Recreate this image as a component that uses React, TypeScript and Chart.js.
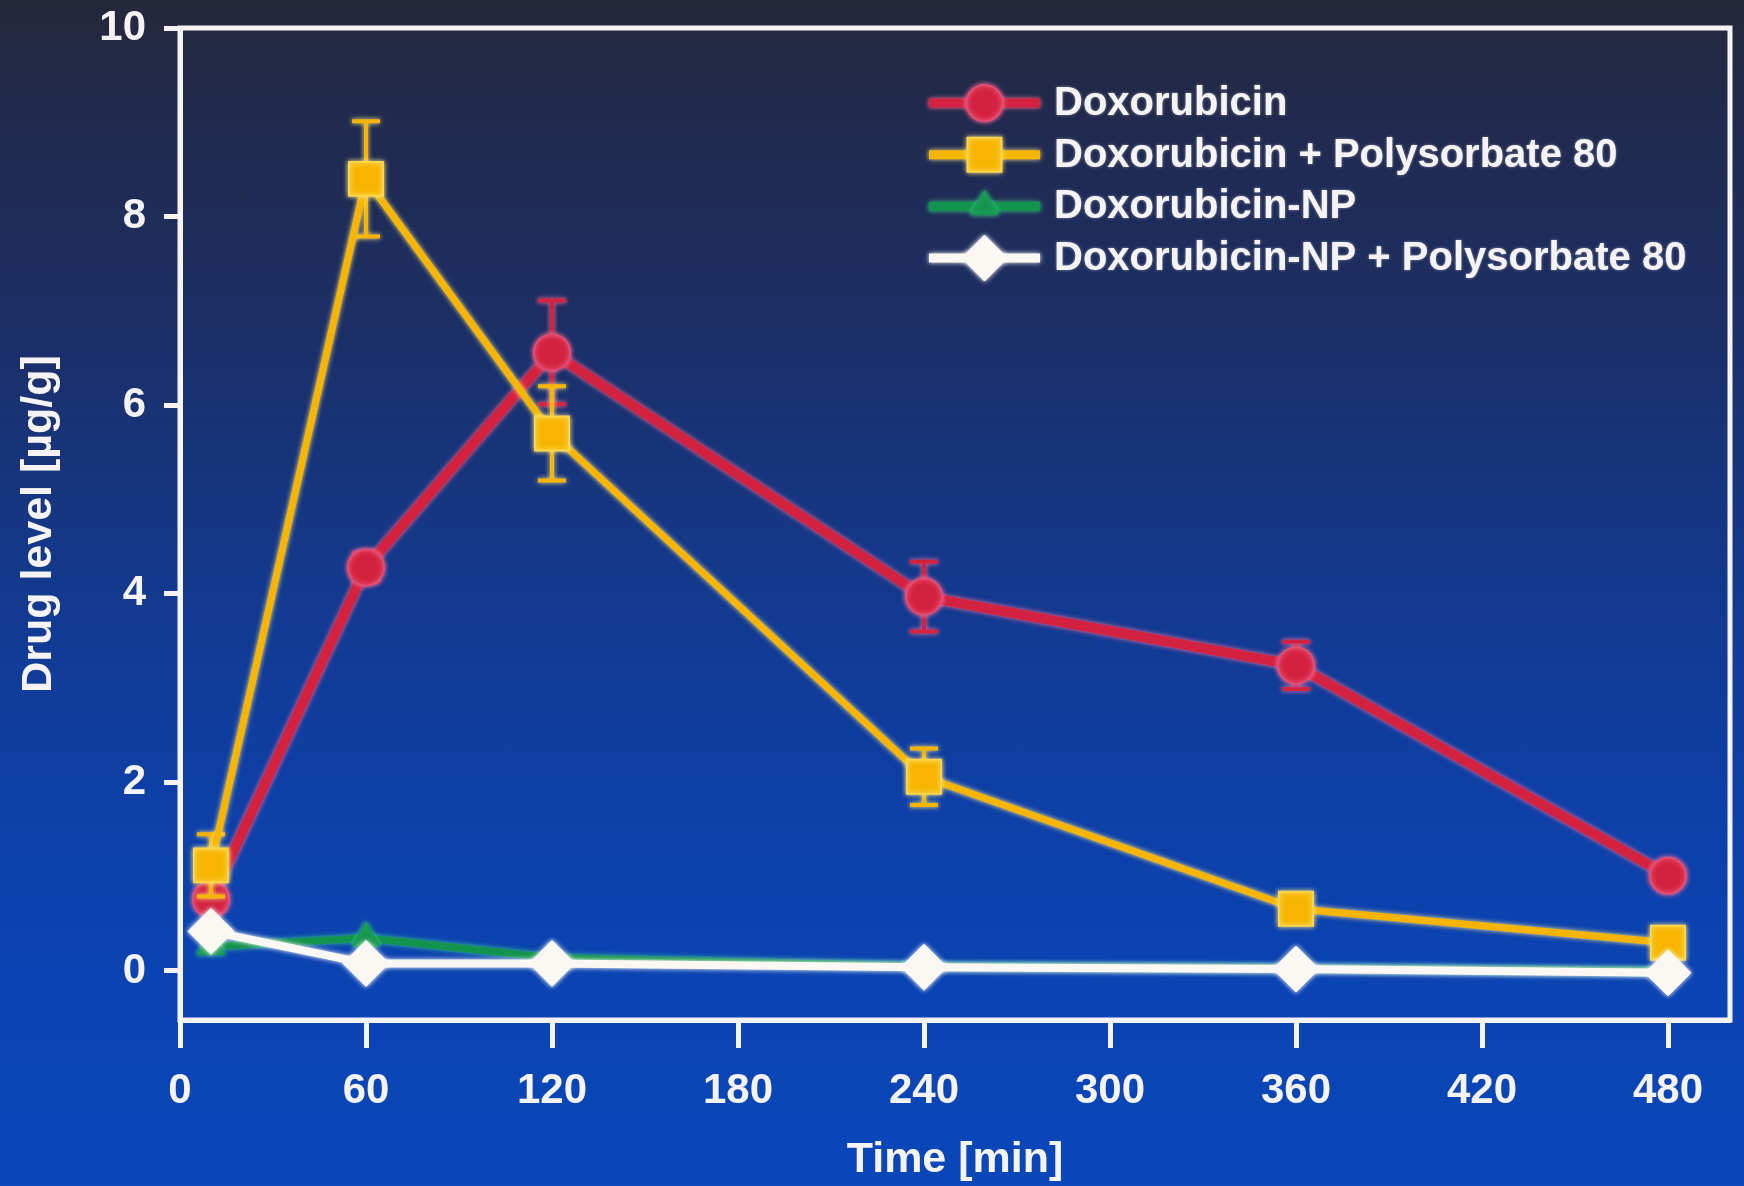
import React, { useEffect, useRef } from 'react';
import { Chart, registerables } from 'chart.js';
import { drawPoint } from 'chart.js/helpers';

Chart.register(...registerables);

// ---- Data ----
const timePoints = [10, 60, 120, 240, 360, 480];
const xTickValues = [0, 60, 120, 180, 240, 300, 360, 420, 480];
const yTickValues = [0, 2, 4, 6, 8, 10];

const seriesLabels = [
  'Doxorubicin',
  'Doxorubicin + Polysorbate 80',
  'Doxorubicin-NP',
  'Doxorubicin-NP + Polysorbate 80',
];

const doxorubicin = [0.76, 4.28, 6.56, 3.97, 3.24, 1.01];
const doxorubicinErr = [0.1, 0.15, 0.55, 0.37, 0.25, 0.08];

const doxPs80 = [1.12, 8.4, 5.7, 2.06, 0.66, 0.3];
const doxPs80Err = [0.33, 0.61, 0.5, 0.3, 0.1, 0.08];

const doxNp = [0.26, 0.35, 0.14, 0.05, 0.03, 0.0];
const doxNpErr = [0, 0, 0, 0, 0, 0];

const doxNpPs80 = [0.42, 0.08, 0.08, 0.04, 0.02, -0.02];
const doxNpPs80Err = [0, 0, 0, 0, 0, 0];

const FONT = "'Liberation Sans', Arial, Helvetica, sans-serif";
const WHITE = '#f6f3f4';

const toPoints = (vals: number[]) => timePoints.map((t, i) => ({ x: t, y: vals[i] }));

const zeroPadding = (s: any) => {
  s.paddingTop = 0;
  s.paddingBottom = 0;
  s.paddingLeft = 0;
  s.paddingRight = 0;
};

// error bars drawn through the chart's own scales
const errorBarPlugin = {
  id: 'errorBars',
  beforeDatasetDraw(chart: any, args: any) {
    const ds = chart.data.datasets[args.index];
    const ctx = chart.ctx;
    ctx.save();
    if (ds.glowColor) {
      ctx.shadowColor = ds.glowColor;
      ctx.shadowBlur = 5;
    }
    const errs: number[] | undefined = ds.errors;
    if (!errs) return;
    const meta = chart.getDatasetMeta(args.index);
    const yScale = chart.scales[meta.yAxisID];
    ctx.save();
    ctx.strokeStyle = ds.borderColor;
    ctx.lineWidth = 4;
    meta.data.forEach((el: any, i: number) => {
      const e = errs[i];
      if (!e) return;
      const v = ds.data[i].y;
      const yt = yScale.getPixelForValue(v + e);
      const yb = yScale.getPixelForValue(v - e);
      const cap = 14;
      ctx.beginPath();
      ctx.moveTo(el.x, yt);
      ctx.lineTo(el.x, yb);
      ctx.moveTo(el.x - cap, yt);
      ctx.lineTo(el.x + cap, yt);
      ctx.moveTo(el.x - cap, yb);
      ctx.lineTo(el.x + cap, yb);
      ctx.stroke();
    });
    ctx.restore();
  },
  afterDatasetDraw(chart: any) {
    chart.ctx.restore();
  },
};

// white frame round the plot area
const framePlugin = {
  id: 'frame',
  afterDraw(chart: any) {
    const { ctx, chartArea } = chart;
    ctx.save();
    ctx.strokeStyle = WHITE;
    ctx.lineWidth = 5;
    ctx.strokeRect(chartArea.left, chartArea.top, chartArea.right - chartArea.left, chartArea.bottom - chartArea.top);
    ctx.restore();
  },
};

// legend inside the plot, top right
const insetLegendPlugin = {
  id: 'insetLegend',
  afterDraw(chart: any) {
    const ctx = chart.ctx;
    const lineX1 = 929;
    const lineX2 = 1040;
    const textX = 1054;
    const row0 = 103;
    const rowGap = 51.7;
    ctx.save();
    chart.data.datasets.forEach((ds: any, i: number) => {
      const y = row0 + i * rowGap;
      ctx.save();
      if (ds.glowColor) {
        ctx.shadowColor = ds.glowColor;
        ctx.shadowBlur = 5;
      }
      ctx.strokeStyle = ds.borderColor;
      ctx.lineWidth = 9;
      ctx.beginPath();
      ctx.moveTo(lineX1, y);
      ctx.lineTo(lineX2, y);
      ctx.stroke();
      ctx.fillStyle = ds.pointBackgroundColor;
      ctx.strokeStyle = ds.pointBorderColor;
      ctx.lineWidth = ds.pointBorderWidth;
      drawPoint(ctx, { pointStyle: ds.pointStyle, radius: ds.pointRadius, rotation: 0, borderWidth: ds.pointBorderWidth }, (lineX1 + lineX2) / 2, y);
      ctx.restore();
      ctx.save();
      ctx.fillStyle = WHITE;
      ctx.shadowColor = 'rgba(255,255,255,0.45)';
      ctx.shadowBlur = 3;
      ctx.font = `bold 40px ${FONT}`;
      ctx.textBaseline = 'middle';
      ctx.textAlign = 'left';
      ctx.fillText(ds.label, textX, y + 1);
      ctx.restore();
    });
    ctx.restore();
  },
};

export default function App() {
  const canvasRef = useRef<HTMLCanvasElement | null>(null);

  useEffect(() => {
    const canvas = canvasRef.current;
    if (!canvas) return;
    const chart = new Chart(canvas, {
      type: 'line',
      data: {
        datasets: [
          {
            label: seriesLabels[0],
            data: toPoints(doxorubicin),
            errors: doxorubicinErr,
            borderColor: '#d3223f',
            glowColor: '#ff6f9a',
            borderWidth: 10,
            pointStyle: 'circle',
            pointRadius: 18,
            pointBackgroundColor: '#d3223f',
            pointBorderColor: '#e04d6e',
            pointBorderWidth: 2,
            order: 4,
          },
          {
            label: seriesLabels[1],
            data: toPoints(doxPs80),
            errors: doxPs80Err,
            borderColor: '#f7b500',
            glowColor: '#ffe98a',
            borderWidth: 7,
            pointStyle: 'rect',
            pointRadius: 24,
            pointBackgroundColor: '#f7b500',
            pointBorderColor: '#ffd54a',
            pointBorderWidth: 2,
            order: 3,
          },
          {
            label: seriesLabels[2],
            data: toPoints(doxNp),
            errors: doxNpErr,
            borderColor: '#13944c',
            glowColor: '#3fd08a',
            borderWidth: 7,
            pointStyle: 'triangle',
            pointRadius: 16,
            pointBackgroundColor: '#13944c',
            pointBorderColor: '#13944c',
            pointBorderWidth: 1,
            order: 2,
          },
          {
            label: seriesLabels[3],
            data: toPoints(doxNpPs80),
            errors: doxNpPs80Err,
            borderColor: '#fbf7f2',
            glowColor: '#ffffff',
            borderWidth: 8,
            pointStyle: 'rectRot',
            pointRadius: 23,
            pointBackgroundColor: '#fbf7f2',
            pointBorderColor: '#fbf7f2',
            pointBorderWidth: 1,
            order: 1,
          },
        ] as any,
      },
      options: {
        animation: false,
        responsive: false,
        maintainAspectRatio: false,
        layout: { autoPadding: false, padding: { top: 28, right: 14, left: 0, bottom: 0 } },
        elements: { line: { tension: 0, borderJoinStyle: 'round', borderCapStyle: 'round' } },
        plugins: {
          legend: { display: false },
          tooltip: { enabled: false },
        },
        scales: {
          x: {
            type: 'linear',
            min: 0,
            max: 500,
            afterBuildTicks: (s: any) => {
              s.ticks = xTickValues.map((v) => ({ value: v }));
            },
            afterFit: (s: any) => {
              s.height = 166;
              zeroPadding(s);
            },
            grid: {
              drawOnChartArea: false,
              drawTicks: true,
              tickLength: 28,
              tickWidth: 5,
              tickColor: WHITE,
              color: WHITE,
            },
            border: { display: true, color: WHITE, width: 5 },
            ticks: {
              color: WHITE,
              font: { family: FONT, size: 42, weight: 'bold' },
              padding: 18,
              maxRotation: 0,
              autoSkip: false,
            },
            title: {
              display: true,
              text: 'Time [min]',
              color: WHITE,
              font: { family: FONT, size: 43, weight: 'bold' },
              padding: { top: 0, bottom: 0 },
            },
          },
          y: {
            type: 'linear',
            min: -0.52,
            max: 10,
            afterBuildTicks: (s: any) => {
              s.ticks = yTickValues.map((v) => ({ value: v }));
            },
            afterFit: (s: any) => {
              s.width = 180;
              zeroPadding(s);
            },
            grid: {
              drawOnChartArea: false,
              drawTicks: true,
              tickLength: 16,
              tickWidth: 5,
              tickColor: WHITE,
              color: WHITE,
            },
            border: { display: true, color: WHITE, width: 5 },
            ticks: {
              color: WHITE,
              font: { family: FONT, size: 42, weight: 'bold' },
              padding: 18,
              autoSkip: false,
            },
            title: {
              display: true,
              text: 'Drug level [µg/g]',
              color: WHITE,
              font: { family: FONT, size: 43, weight: 'bold' },
              padding: { top: 13, bottom: 0 },
            },
          },
        },
      } as any,
      plugins: [errorBarPlugin, framePlugin, insetLegendPlugin],
    });
    return () => chart.destroy();
  }, []);

  return (
    <div
      style={{
        position: 'fixed',
        left: 0,
        top: 0,
        width: 1744,
        height: 1186,
        overflow: 'hidden',
        background:
          'linear-gradient(180deg, #25283a 0%, #212a4c 9%, #1c2e63 26%, #143888 46%, #0e3fa5 66%, #0b44b4 84%, #0a47b9 100%)',
      }}
    >
      <canvas ref={canvasRef} width={1744} height={1186} style={{ display: 'block', width: 1744, height: 1186 }} />
    </div>
  );
}
